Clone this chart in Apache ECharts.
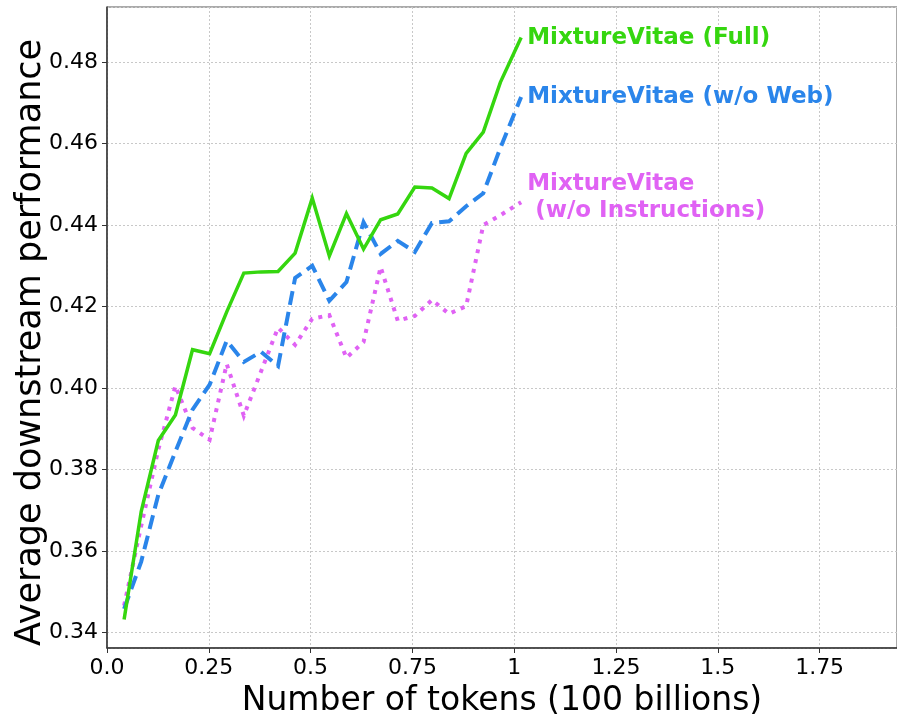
<!DOCTYPE html>
<html><head><meta charset="utf-8">
<script src="https://cdn.jsdelivr.net/npm/echarts@6/dist/echarts.min.js"></script>
<style>html,body{margin:0;padding:0;background:#fff}#c{width:897px;height:716px}</style>
</head><body><div id="c"></div>
<script>
// x: number of tokens (100 billions)
const tokens = [0.042, 0.084, 0.126, 0.168, 0.210, 0.252, 0.294, 0.336, 0.378, 0.420, 0.462, 0.504,
                0.546, 0.588, 0.630, 0.672, 0.714, 0.756, 0.798, 0.840, 0.882, 0.924, 0.966, 1.017];
const fullScores = [0.3432, 0.3697, 0.3871, 0.3934, 0.4094, 0.4084, 0.4187, 0.4282, 0.4285, 0.4286, 0.4331, 0.4466,
                    0.4324, 0.4428, 0.4341, 0.4413, 0.4427, 0.4493, 0.4491, 0.4465, 0.4576, 0.4628, 0.4750, 0.4860];
const noWebScores = [0.3458, 0.3574, 0.3738, 0.3844, 0.3947, 0.4008, 0.4116, 0.4064, 0.4089, 0.4054, 0.4270, 0.4300,
                     0.4214, 0.4260, 0.4407, 0.4329, 0.4361, 0.4334, 0.4405, 0.4409, 0.4446, 0.4478, 0.4589, 0.4714];
const noInstrScores = [0.3466, 0.3662, 0.3849, 0.4005, 0.3902, 0.3873, 0.4059, 0.3932, 0.4040, 0.4148, 0.4106, 0.4170,
                       0.4179, 0.4074, 0.4113, 0.4297, 0.4165, 0.4177, 0.4216, 0.4182, 0.4201, 0.4400, 0.4424, 0.4456];
const seriesNames = ['MixtureVitae (Full)', 'MixtureVitae (w/o Web)', 'MixtureVitae\n (w/o Instructions)'];
const seriesColors = ['#35d60f', '#2a85ea', '#e062f4'];
const xTickLabels = ['0.0', '0.25', '0.5', '0.75', '1', '1.25', '1.5', '1.75'];
const xTitle = 'Number of tokens (100 billions)';
const yTitle = 'Average downstream performance';

const FONT = 'DejaVu Sans';
const chart = echarts.init(document.getElementById('c'), null, {renderer: 'canvas'});

function pairs(ys) { return tokens.map((x, i) => [x, ys[i]]); }

function mkSeries(idx, ys, lineType, width, z, dist, offset) {
  return {
    name: seriesNames[idx],
    type: 'line',
    data: pairs(ys),
    symbol: 'none',
    showSymbol: false,
    z: z,
    lineStyle: {color: seriesColors[idx], width: width, type: lineType, cap: 'butt', join: 'miter'},
    itemStyle: {color: seriesColors[idx]},
    endLabel: {
      show: true,
      formatter: seriesNames[idx],
      color: seriesColors[idx],
      fontFamily: FONT,
      fontWeight: 'bold',
      fontSize: 23,
      lineHeight: 27,
      distance: dist,
      offset: offset
    },
    emphasis: {disabled: true}
  };
}

const gridLine = {show: true, lineStyle: {color: '#c8c8c8', width: 1, type: [2, 2]}};

chart.setOption({
  animation: false,
  backgroundColor: '#ffffff',
  grid: {left: 107, right: 0, top: 7, bottom: 68, containLabel: false, outerBoundsMode: 'none',
         show: true, borderColor: '#555', borderWidth: 1, backgroundColor: 'transparent'},
  xAxis: {
    type: 'value', min: 0, max: 1.94, interval: 0.25,
    name: xTitle, nameLocation: 'middle', nameGap: 37, nameMoveOverlap: false,
    nameTextStyle: {fontFamily: FONT, fontSize: 33, color: '#000'},
    axisLine: {show: true, onZero: false, lineStyle: {color: '#333', width: 1.5}},
    axisTick: {show: true, length: 5, lineStyle: {color: '#333', width: 1}},
    axisLabel: {fontFamily: FONT, fontSize: 22, color: '#000', margin: 9, showMaxLabel: false,
      formatter: v => { const i = Math.round(v / 0.25); return Math.abs(i * 0.25 - v) < 1e-6 && xTickLabels[i] !== undefined ? xTickLabels[i] : ''; }},
    splitLine: gridLine
  },
  yAxis: {
    type: 'value', min: 0.3362, max: 0.4935, splitNumber: 8,
    name: yTitle, nameLocation: 'middle', nameGap: 59, nameRotate: 90, nameMoveOverlap: false,
    nameTextStyle: {fontFamily: FONT, fontSize: 35, color: '#000', padding: [0, 30, 0, 0]},
    axisLine: {show: true, onZero: false, lineStyle: {color: '#333', width: 1.5}},
    axisTick: {show: true, length: 5, lineStyle: {color: '#333', width: 1}},
    axisLabel: {fontFamily: FONT, fontSize: 22, color: '#000', margin: 9, showMinLabel: false, showMaxLabel: false,
      formatter: v => v.toFixed(2)},
    splitLine: gridLine
  },
  series: [
    mkSeries(2, noInstrScores, [4, 6], 4, 3, 6, [0, -5]),
    mkSeries(1, noWebScores, [14, 7], 4, 4, 6, [0, 0]),
    mkSeries(0, fullScores, 'solid', 3.5, 5, 6, [0, 0])
  ]
});
</script>
</body></html>
